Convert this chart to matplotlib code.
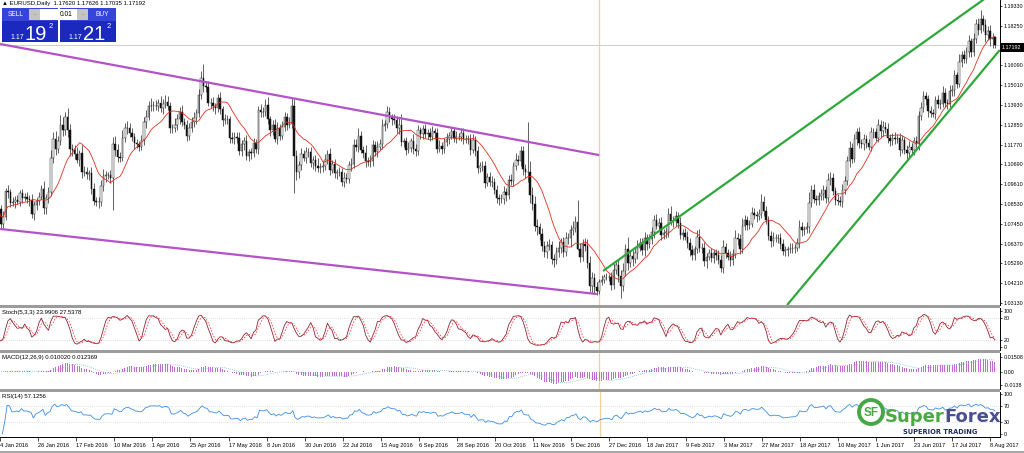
import matplotlib
matplotlib.use("Agg")
import matplotlib.pyplot as plt
from matplotlib.patches import Rectangle, Circle
import numpy as np
import pandas as pd

W, H = 1024, 453

# daily closes, 4 Jan 2016 .. 10 Aug 2017
closes = [
    1.0826, 1.0746, 1.0780, 1.0925, 1.0920, 1.0860, 1.0863, 1.0875, 1.0866, 1.0915,
    1.0888, 1.0890, 1.0883, 1.0875, 1.0797, 1.0848, 1.0870, 1.0893, 1.0937, 1.0830,
    1.0885, 1.0918, 1.1105, 1.1210, 1.1155, 1.1195, 1.1285, 1.1255, 1.1325, 1.1255,
    1.1155, 1.1145, 1.1125, 1.1095, 1.1130, 1.1025, 1.1030, 1.1015, 1.1020, 1.0935,
    1.0870, 1.0865, 1.0862, 1.0950, 1.1005, 1.1010, 1.1010, 1.0995, 1.1180, 1.1150,
    1.1110, 1.1105, 1.1215, 1.1265, 1.1270, 1.1240, 1.1220, 1.1185, 1.1180, 1.1165,
    1.1200, 1.1300, 1.1330, 1.1385, 1.1390, 1.1390, 1.1385, 1.1405, 1.1375, 1.1400,
    1.1410, 1.1385, 1.1270, 1.1265, 1.1285, 1.1315, 1.1355, 1.1300, 1.1285, 1.1225,
    1.1265, 1.1300, 1.1320, 1.1350, 1.1450, 1.1540, 1.1495, 1.1490, 1.1405, 1.1405,
    1.1385, 1.1375, 1.1430, 1.1370, 1.1310, 1.1315, 1.1315, 1.1215, 1.1205, 1.1220,
    1.1215, 1.1140, 1.1180, 1.1195, 1.1115, 1.1135, 1.1130, 1.1185, 1.1155, 1.1365,
    1.1355, 1.1355, 1.1395, 1.1315, 1.1255, 1.1285, 1.1210, 1.1265, 1.1225, 1.1275,
    1.1325, 1.1285, 1.1290, 1.1385, 1.1115, 1.1025, 1.1065, 1.1125, 1.1105, 1.1135,
    1.1135, 1.1075, 1.1095, 1.1060, 1.1050, 1.1055, 1.1060, 1.1095, 1.1125, 1.1040,
    1.1070, 1.1020, 1.1025, 1.1030, 1.0975, 1.0995, 1.0990, 1.1065, 1.1070, 1.1175,
    1.1165, 1.1225, 1.1150, 1.1130, 1.1085, 1.1080, 1.1090, 1.1175, 1.1135, 1.1165,
    1.1180, 1.1280, 1.1290, 1.1355, 1.1325, 1.1315, 1.1310, 1.1265, 1.1285, 1.1190,
    1.1195, 1.1150, 1.1160, 1.1195, 1.1155, 1.1140, 1.1255, 1.1235, 1.1260, 1.1235,
    1.1240, 1.1220, 1.1250, 1.1240, 1.1155, 1.1170, 1.1155, 1.1190, 1.1210, 1.1225,
    1.1250, 1.1215, 1.1220, 1.1220, 1.1240, 1.1210, 1.1205, 1.1205, 1.1150, 1.1200,
    1.1140, 1.1050, 1.1060, 1.1060, 1.0970, 1.1000, 1.0975, 1.0975, 1.0930, 1.0885,
    1.0880, 1.0880, 1.0920, 1.0900, 1.0985, 1.0980, 1.1060, 1.1095, 1.1090, 1.1140,
    1.1045, 1.1025, 1.1025, 1.0900, 1.0855, 1.0735, 1.0725, 1.0690, 1.0625, 1.0590,
    1.0625, 1.0630, 1.0555, 1.0545, 1.0590, 1.0615, 1.0645, 1.0590, 1.0665, 1.0665,
    1.0710, 1.0720, 1.0755, 1.0610, 1.0565, 1.0635, 1.0625, 1.0530, 1.0405, 1.0450,
    1.0400, 1.0380, 1.0425, 1.0440, 1.0455, 1.0455, 1.0455, 1.0410, 1.0495, 1.0520,
    1.0460, 1.0405, 1.0490, 1.0605, 1.0530, 1.0570, 1.0555, 1.0585, 1.0615, 1.0640,
    1.0600, 1.0665, 1.0635, 1.0660, 1.0700, 1.0765, 1.0735, 1.0750, 1.0685, 1.0695,
    1.0700, 1.0800, 1.0760, 1.0760, 1.0785, 1.0750, 1.0685, 1.0695, 1.0675, 1.0640,
    1.0600, 1.0575, 1.0605, 1.0675, 1.0615, 1.0615, 1.0540, 1.0565, 1.0585, 1.0560,
    1.0585, 1.0575, 1.0545, 1.0505, 1.0620, 1.0585, 1.0565, 1.0545, 1.0580, 1.0670,
    1.0660, 1.0605, 1.0735, 1.0765, 1.0740, 1.0745, 1.0805, 1.0795, 1.0785, 1.0800,
    1.0865, 1.0815, 1.0765, 1.0680, 1.0650, 1.0670, 1.0665, 1.0665, 1.0635, 1.0595,
    1.0600, 1.0605, 1.0610, 1.0615, 1.0615, 1.0640, 1.0730, 1.0710, 1.0715, 1.0725,
    1.0860, 1.0930, 1.0880, 1.0875, 1.0895, 1.0905, 1.0930, 1.0885, 1.0985, 1.0995,
    1.0925, 1.0875, 1.0870, 1.0865, 1.0930, 1.0980, 1.1085, 1.1160, 1.1100, 1.1205,
    1.1245, 1.1185, 1.1180, 1.1210, 1.1185, 1.1165, 1.1245, 1.1245, 1.1215, 1.1285,
    1.1250, 1.1275, 1.1260, 1.1215, 1.1195, 1.1215, 1.1210, 1.1215, 1.1150, 1.1200,
    1.1150, 1.1130, 1.1165, 1.1150, 1.1195, 1.1180, 1.1335, 1.1375, 1.1445, 1.1425,
    1.1360, 1.1350, 1.1345, 1.1420, 1.1400, 1.1400, 1.1460, 1.1405, 1.1400, 1.1470,
    1.1475, 1.1555, 1.1510, 1.1630, 1.1665, 1.1645, 1.1685, 1.1740, 1.1680, 1.1755,
    1.1835, 1.1805, 1.1860, 1.1830, 1.1775, 1.1795, 1.1755, 1.1760, 1.17192,
]

# upper / lower shadow lengths in pips
up_pips = [
    40, 22, 35, 18, 30, 15, 28, 20, 25, 12,
    18, 25, 30, 20, 35, 22, 15, 28, 20, 40,
    25, 30, 45, 35, 40, 30, 55, 40, 30, 51,
    35, 25, 30, 40, 20, 45, 30, 25, 20, 35,
    30, 20, 25, 35, 40, 25, 20, 30, 38, 45,
    30, 25, 40, 30, 35, 25, 30, 20, 25, 18,
    30, 25, 35, 30, 40, 25, 30, 20, 35, 25,
    40, 30, 25, 20, 35, 30, 25, 40, 20, 25,
    30, 25, 35, 20, 30, 40, 76, 30, 35, 25,
    30, 20, 25, 35, 20, 30, 25, 20, 30, 25,
    25, 30, 20, 25, 35, 20, 25, 30, 20, 25,
    35, 25, 30, 40, 20, 25, 30, 35, 25, 30,
    30, 25, 35, 45, 42, 30, 25, 35, 20, 30,
    25, 30, 20, 25, 45, 20, 25, 30, 20, 35,
    25, 30, 20, 25, 20, 30, 25, 20, 35, 30,
    30, 40, 25, 20, 45, 25, 30, 25, 20, 30,
    25, 35, 20, 30, 25, 20, 30, 25, 40, 60,
    20, 25, 30, 20, 40, 25, 30, 20, 25, 30,
    20, 25, 30, 20, 25, 30, 20, 25, 30, 20,
    25, 20, 30, 20, 25, 30, 20, 25, 30, 35,
    25, 30, 20, 25, 30, 20, 25, 30, 20, 25,
    20, 25, 30, 20, 25, 30, 20, 35, 25, 30,
    30, 25, 274, 60, 45, 40, 35, 25, 30, 25,
    25, 30, 20, 25, 30, 35, 25, 30, 35, 30,
    30, 40, 35, 120, 30, 25, 30, 35, 40, 30,
    25, 30, 20, 25, 15, 20, 15, 25, 40, 30,
    30, 35, 40, 30, 70, 25, 30, 35, 40, 25,
    30, 35, 25, 30, 25, 30, 35, 25, 30, 20,
    25, 30, 40, 25, 30, 25, 30, 20, 25, 30,
    25, 30, 20, 35, 40, 25, 30, 20, 25, 30,
    25, 20, 25, 30, 35, 20, 25, 30, 25, 40,
    25, 30, 40, 30, 25, 20, 30, 25, 20, 25,
    40, 30, 25, 20, 25, 30, 20, 25, 30, 25,
    25, 20, 30, 25, 20, 30, 35, 25, 20, 30,
    60, 25, 30, 20, 25, 30, 25, 20, 35, 30,
    25, 20, 30, 25, 30, 25, 30, 35, 25, 30,
    25, 30, 20, 25, 20, 25, 30, 20, 25, 30,
    25, 30, 25, 35, 20, 25, 30, 20, 25, 30,
    20, 25, 30, 20, 25, 30, 25, 35, 25, 20,
    25, 30, 20, 25, 30, 25, 35, 25, 20, 30,
    25, 30, 20, 40, 25, 30, 25, 35, 20, 30,
    30, 35, 50, 25, 35, 30, 33, 25, 1,
]
dn_pips = [
    20, 30, 25, 15, 35, 25, 20, 30, 15, 25,
    30, 20, 25, 35, 20, 30, 25, 20, 15, 30,
    30, 25, 20, 30, 35, 25, 20, 30, 25, 35,
    40, 30, 25, 20, 35, 30, 20, 25, 30, 25,
    20, 25, 30, 20, 25, 30, 20, 25, 173, 35,
    30, 25, 20, 25, 30, 20, 25, 30, 20, 25,
    20, 25, 30, 20, 25, 30, 20, 25, 20, 30,
    25, 20, 30, 25, 20, 30, 25, 20, 25, 30,
    25, 20, 25, 30, 20, 25, 30, 25, 20, 30,
    25, 30, 20, 25, 30, 20, 25, 30, 20, 25,
    30, 20, 25, 30, 20, 25, 30, 20, 25, 30,
    25, 30, 20, 25, 30, 25, 20, 30, 25, 20,
    25, 30, 20, 25, 203, 40, 30, 25, 20, 30,
    25, 20, 30, 25, 20, 30, 25, 20, 25, 30,
    20, 25, 30, 20, 25, 30, 20, 25, 30, 20,
    25, 30, 20, 25, 30, 20, 25, 30, 20, 25,
    20, 25, 30, 20, 25, 30, 20, 25, 30, 20,
    25, 30, 20, 25, 30, 25, 20, 30, 25, 20,
    30, 25, 20, 30, 25, 20, 30, 25, 20, 30,
    20, 25, 30, 20, 25, 30, 20, 25, 30, 20,
    25, 30, 20, 25, 30, 20, 25, 30, 20, 25,
    30, 20, 25, 30, 20, 25, 30, 20, 25, 30,
    35, 30, 52, 40, 35, 30, 40, 35, 30, 25,
    30, 25, 30, 35, 20, 25, 30, 25, 20, 30,
    45, 25, 20, 10, 30, 25, 30, 25, 30, 35,
    30, 25, 20, 15, 20, 15, 20, 25, 20, 25,
    30, 65, 25, 30, 35, 20, 40, 25, 30, 20,
    25, 30, 35, 20, 25, 30, 20, 25, 30, 25,
    30, 25, 20, 30, 25, 30, 25, 30, 20, 25,
    30, 25, 30, 20, 25, 30, 25, 35, 20, 25,
    30, 25, 20, 25, 30, 25, 20, 30, 25, 20,
    30, 25, 20, 25, 30, 25, 20, 25, 30, 20,
    25, 30, 20, 25, 30, 25, 20, 25, 30, 20,
    25, 30, 20, 25, 30, 20, 25, 30, 25, 20,
    30, 25, 20, 30, 25, 20, 30, 25, 20, 30,
    25, 30, 20, 25, 30, 20, 25, 30, 25, 20,
    30, 25, 20, 30, 25, 20, 25, 30, 20, 25,
    30, 25, 20, 30, 25, 20, 30, 25, 35, 20,
    25, 30, 20, 25, 30, 20, 30, 25, 20, 30,
    30, 25, 20, 30, 25, 30, 20, 25, 30, 20,
    25, 30, 25, 20, 30, 25, 20, 30, 25, 20,
    25, 30, 20, 35, 40, 25, 40, 50, 16,
]
first_open = 1.0862
last_open = 1.17620

date_labels = ["4 Jan 2016", "26 Jan 2016", "17 Feb 2016", "10 Mar 2016", "1 Apr 2016",
               "25 Apr 2016", "17 May 2016", "8 Jun 2016", "30 Jun 2016", "22 Jul 2016",
               "15 Aug 2016", "6 Sep 2016", "28 Sep 2016", "20 Oct 2016", "11 Nov 2016",
               "5 Dec 2016", "27 Dec 2016", "18 Jan 2017", "9 Feb 2017", "3 Mar 2017",
               "27 Mar 2017", "18 Apr 2017", "10 May 2017", "1 Jun 2017", "23 Jun 2017",
               "17 Jul 2017", "8 Aug 2017"]
label_step = 16

price_ticks = [1.1933, 1.1825, 1.1609, 1.1501, 1.1393, 1.1285, 1.1177, 1.1069,
               1.0961, 1.0853, 1.0745, 1.0637, 1.0529, 1.0421, 1.0313]
current_price = 1.17192

# trend lines: (bar index, price) end points
purple_lines = [((0.7, 1.1726), (252.0, 1.1120)), ((0.7, 1.0717), (251.0, 1.0362))]
green_lines = [((253.6, 1.0488), (415.0, 1.1985)), ((330.8, 1.0302), (420.0, 1.1693))]
vline_bar = 252.0

header = "EURUSD,Daily  1.17620 1.17626 1.17035 1.17192"
stoch_title = "Stoch(5,3,3) 23.9906 27.5378"
macd_title = "MACD(12,26,9) 0.010020 0.012369"
rsi_title = "RSI(14) 57.1256"

# ---- derived series ----
c = np.array(closes)
o = np.concatenate([[first_open], c[:-1]])
o[-1] = last_open
hi = np.maximum(o, c) + np.array(up_pips) / 10000
lo = np.minimum(o, c) - np.array(dn_pips) / 10000
x = np.arange(len(c))

cs, hs, ls = pd.Series(c), pd.Series(hi), pd.Series(lo)
ma = cs.rolling(13, min_periods=1).mean()

ll = ls.rolling(5, min_periods=1).min()
hh = hs.rolling(5, min_periods=1).max()
k = (cs - ll).rolling(3, min_periods=1).sum() / (hh - ll).rolling(3, min_periods=1).sum() * 100
d = k.rolling(3, min_periods=1).mean()

macd = cs.ewm(span=12, adjust=True).mean() - cs.ewm(span=26, adjust=True).mean()
sig = macd.rolling(9, min_periods=1).mean()

delta = cs.diff()
gain = delta.clip(lower=0).ewm(alpha=1 / 14, adjust=True).mean()
loss = (-delta.clip(upper=0)).ewm(alpha=1 / 14, adjust=True).mean()
rsi = 100 - 100 / (1 + gain / loss)

# ---- figure ----
FONT = ["Liberation Sans", "DejaVu Sans"]
plt.rcParams["font.family"] = FONT
fig = plt.figure(figsize=(W / 100, H / 100), dpi=100, facecolor="white")


def px_axes(x0, y0, x1, y1):
    return fig.add_axes([x0 / W, 1 - y1 / H, (x1 - x0) / W, (y1 - y0) / H])


XL = (0.67, 420.1)
main = px_axes(0, 0, 1000, 305)
ax_st = px_axes(0, 308, 1000, 349.5)
ax_md = px_axes(0, 352.5, 1000, 388.5)
ax_rs = px_axes(0, 391.5, 1000, 437)

for ax in (main, ax_st, ax_md, ax_rs):
    ax.set_xlim(*XL)
    for s in ("top", "left", "bottom"):
        ax.spines[s].set_visible(False)
    ax.spines["right"].set_linewidth(0.7)
    ax.yaxis.tick_right()
    ax.tick_params(axis="y", labelsize=3.9, length=1.5, width=0.5, pad=1)
    ax.tick_params(axis="x", bottom=False, labelbottom=False)
    ax.axvline(vline_bar, color="#f2cf9c", lw=0.9, zorder=1)

# candles
main.set_ylim(1.03021, 1.1966)
main.vlines(x, lo, hi, color="#222222", lw=0.5, zorder=3)
bull = c >= o
body_lo = np.minimum(o, c)
body_h = np.maximum(np.abs(c - o), 0.00006)
main.bar(x[bull], body_h[bull], bottom=body_lo[bull], width=0.62, color="white",
         edgecolor="#222222", linewidth=0.35, zorder=4)
main.bar(x[~bull], body_h[~bull], bottom=body_lo[~bull], width=0.62, color="#111111",
         edgecolor="#111111", linewidth=0.35, zorder=4)
main.plot(x, ma, color="#e0301e", lw=0.6, zorder=5)
main.axhline(current_price, color="#c8c8c8", lw=0.6, zorder=2)
for (x0, y0), (x1, y1) in purple_lines:
    main.plot([x0, x1], [y0, y1], color="#b452c8", lw=1.6, zorder=6, solid_capstyle="butt")
for (x0, y0), (x1, y1) in green_lines:
    main.plot([x0, x1], [y0, y1], color="#2ea83a", lw=1.6, zorder=6, solid_capstyle="butt")
main.set_yticks(price_ticks)
main.set_yticklabels(["%.5f" % v for v in price_ticks])

# stochastic
ax_st.set_ylim(-5.6, 108.3)
ax_st.axhline(80, color="#c0c0c0", lw=0.5, ls=(0, (1, 2)))
ax_st.axhline(20, color="#c0c0c0", lw=0.5, ls=(0, (1, 2)))
ax_st.plot(x, k, color="#8e2636", lw=0.6)
ax_st.plot(x, d, color="#ff3030", lw=0.55, ls=(0, (2, 2)))
ax_st.set_yticks([100, 80, 20, 0])
ax_st.set_yticklabels(["100", "80", "20", "0"])

# macd
ax_md.set_ylim(-0.01793, 0.02024)
ax_md.bar(x, macd, width=0.42, color="#c06ad2", linewidth=0)
ax_md.plot(x, sig, color="#6cc0c8", lw=0.6, ls=(0, (1, 1.5)))
macd_ticks = [0.01508, 0.0, -0.0138]
ax_md.set_yticks(macd_ticks)
ax_md.set_yticklabels(["0.01508", "0.00", "-0.0138"])

# rsi
ax_rs.set_ylim(-7.5, 106.25)
ax_rs.axhline(70, color="#c0c0c0", lw=0.5, ls=(0, (1, 2)))
ax_rs.axhline(30, color="#c0c0c0", lw=0.5, ls=(0, (1, 2)))
ax_rs.plot(x[1:], rsi[1:], color="#3a8ee6", lw=0.6)
ax_rs.set_yticks([100, 70, 30, 0])
ax_rs.set_yticklabels(["100", "70", "30", "0"])
ax_rs.spines["bottom"].set_visible(True)
ax_rs.spines["bottom"].set_linewidth(0.7)
ticks = [i * label_step for i in range(len(date_labels))]
ax_rs.set_xticks(ticks)
ax_rs.set_xticklabels(date_labels)
ax_rs.tick_params(axis="x", bottom=True, labelbottom=True, labelsize=4.1,
                  length=3, width=0.5, pad=1.5)
for t in ax_rs.get_xticklabels():
    t.set_horizontalalignment("left")

# ---- overlay in pixel coordinates ----
ov = fig.add_axes([0, 0, 1, 1], zorder=20)
ov.set_xlim(0, W)
ov.set_ylim(H, 0)
ov.axis("off")
ov.patch.set_alpha(0)

for yy in (305, 349.5, 388.5):
    ov.add_patch(Rectangle((0, yy), 1000, 3, color="#9c9c9c", lw=0))
ov.add_patch(Rectangle((0, 451), W, 2, color="#a8a8a8", lw=0))

# current price tag
ov.add_patch(Rectangle((1000.5, 43), 23.5, 8.5, color="black", lw=0))
ov.text(1001.5, 47.4, "%.5f" % current_price, color="white", fontsize=3.9, va="center")

# header and panel titles
ov.text(2, 3.5, "\u25b2 " + header, fontsize=4.3, va="center", color="black", family=FONT)
ov.text(2, 312.5, stoch_title, fontsize=4.3, va="center")
ov.text(2, 357, macd_title, fontsize=4.3, va="center")
ov.text(2, 396.5, rsi_title, fontsize=4.3, va="center")

# one-click trading panel
for bx in (2, 60):
    ov.add_patch(Rectangle((bx, 8), 56, 13, color="#3445d8", lw=0))
    ov.add_patch(Rectangle((bx, 21), 56, 21, color="#1c29bf", lw=0))
ov.add_patch(Rectangle((29, 9), 11, 11, color="#c4c4c4", lw=0))
ov.add_patch(Rectangle((40, 9), 37, 11, color="white", lw=0))
ov.add_patch(Rectangle((77, 9), 11, 11, color="#c4c4c4", lw=0))
ov.text(34.5, 14.5, "-", fontsize=4, ha="center", va="center", color="#555555")
ov.text(82.5, 14.5, "-", fontsize=4, ha="center", va="center", color="#555555")
ov.text(73, 14.5, "0.01", fontsize=4.8, ha="right", va="center", color="black")
ov.text(8, 14.5, "SELL", fontsize=4.8, va="center", color="white")
ov.text(95, 14.5, "BUY", fontsize=4.8, va="center", color="white")
for bx, big in ((2, "19"), (60, "21")):
    ov.text(bx + 8, 39, "1.17", fontsize=5, color="white", va="baseline")
    ov.text(bx + 23, 40, big, fontsize=14.5, color="white", va="baseline")
    ov.text(bx + 47, 28, "2", fontsize=5.5, color="white", va="baseline")

# watermark logo
ov.add_patch(Circle((871, 412), 12, facecolor="white", edgecolor="#45a845", lw=2.8))
ov.text(871, 412.5, "SF", fontsize=8.5, fontweight="bold", color="#45a845",
        ha="center", va="center")
t1 = ov.text(885, 422, "Super", fontsize=13, fontweight="bold", color="#4aa944",
             va="baseline", family="DejaVu Sans")
fig.canvas.draw()
bb = t1.get_window_extent(fig.canvas.get_renderer())
ov.text(885 + bb.width, 422, "Forex", fontsize=13, fontweight="bold",
        color="#4c4f8e", va="baseline", family="DejaVu Sans")
ov.text(903, 431.5, "SUPERIOR TRADING", fontsize=4.8, fontweight="bold",
        color="#1d2b5c", va="center", family="DejaVu Sans")

fig.savefig("out.png", dpi=100)
